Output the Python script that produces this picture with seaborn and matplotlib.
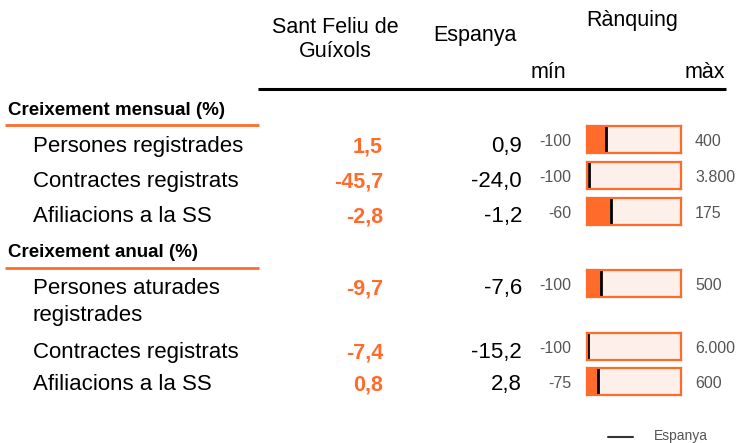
import pandas as pd
import matplotlib
matplotlib.use("Agg")
import matplotlib.pyplot as plt
import seaborn as sns

# data
sections = ["Creixement mensual (%)", "Creixement anual (%)"]
labels = ["Persones registrades", "Contractes registrats", "Afiliacions a la SS",
          "Persones aturades\nregistrades", "Contractes registrats", "Afiliacions a la SS"]
sant_feliu = [1.5, -45.7, -2.8, -9.7, -7.4, 0.8]
espanya = [0.9, -24.0, -1.2, -7.6, -15.2, 2.8]
rank_min = [-100, -100, -60, -100, -100, -75]
rank_max = [400, 3800, 175, 500, 6000, 600]

ORANGE = "#FF6B2B"
PINK = "#FDF0EB"
GREY = "#555555"

sns.set_theme(style="white")
plt.rcParams["font.family"] = ["Liberation Sans", "DejaVu Sans"]
plt.rcParams["text.color"] = "black"

W, H = 739, 443
fig = plt.figure(figsize=(W / 100, H / 100), dpi=100)
ax = fig.add_axes([0, 0, 1, 1])
ax.set_xlim(0, W)
ax.set_ylim(H, 0)
ax.axis("off")


def fmt(v):
    return f"{v:.1f}".replace(".", ",")


# header
ax.text(335, 33, "Sant Feliu de", ha="center", va="baseline", fontsize=15.5)
ax.text(335, 57, "Guíxols", ha="center", va="baseline", fontsize=15.5)
ax.text(475, 41, "Espanya", ha="center", va="baseline", fontsize=15.5)
ax.text(632, 26, "Rànquing", ha="center", va="baseline", fontsize=15.5)
ax.text(548, 78, "mín", ha="center", va="baseline", fontsize=15.5)
ax.text(725, 78, "màx", ha="right", va="baseline", fontsize=15.5)
ax.plot([258, 726], [89, 89], color="black", lw=2.2, solid_capstyle="butt")

# section headings
sec_base = [115, 257]
sec_line = [125, 268]
for s, yb, yl in zip(sections, sec_base, sec_line):
    ax.text(8, yb, s, ha="left", va="baseline", fontsize=13.5, fontweight="bold")
    ax.plot([5, 259], [yl, yl], color=ORANGE, lw=2, solid_capstyle="butt")

row_base = [152, 187, 222, 294, 358, 390]
box_top = [126, 162, 198, 270, 333, 368]
box_h = 27
bx0, bx1 = 587, 681

for i in range(len(labels)):
    yb = row_base[i]
    for j, line in enumerate(labels[i].split("\n")):
        ax.text(33, yb + 27 * j, line, ha="left", va="baseline", fontsize=16)
    ax.text(383, yb, fmt(sant_feliu[i]), ha="right", va="baseline", fontsize=15.5,
            fontweight="bold", color=ORANGE)
    ax.text(522, yb, fmt(espanya[i]), ha="right", va="baseline", fontsize=16)

    yc = box_top[i] + box_h / 2 + 2
    ax.text(571, yc, f"{rank_min[i]}", ha="right", va="center", fontsize=11.5, color=GREY)
    ax.text(695, yc, f"{rank_max[i]:,}".replace(",", "."), ha="left", va="center",
            fontsize=11.5, color=GREY)

    bax = fig.add_axes([bx0 / W, 1 - (box_top[i] + box_h) / H, (bx1 - bx0) / W, box_h / H])
    span = rank_max[i] - rank_min[i]
    d = pd.DataFrame({"v": [sant_feliu[i] - rank_min[i]], "k": ["a"]})
    sns.barplot(data=d, x="v", y="k", orient="h", ax=bax, color=ORANGE,
                width=1, linewidth=0, saturation=1)
    bax.axvline(espanya[i] - rank_min[i], color="black", lw=2)
    bax.set_xlim(0, span)
    bax.set_ylim(0.5, -0.5)
    bax.set_facecolor(PINK)
    bax.set_xticks([])
    bax.set_yticks([])
    bax.set_xlabel("")
    bax.set_ylabel("")
    for sp in bax.spines.values():
        sp.set_visible(True)
        sp.set_color(ORANGE)
        sp.set_linewidth(1.6)

# legend
ax.plot([608, 633], [437, 437], color="#333333", lw=1.5)
ax.text(654, 440, "Espanya", ha="left", va="baseline", fontsize=10, color=GREY)

fig.savefig("out.png", dpi=100)
